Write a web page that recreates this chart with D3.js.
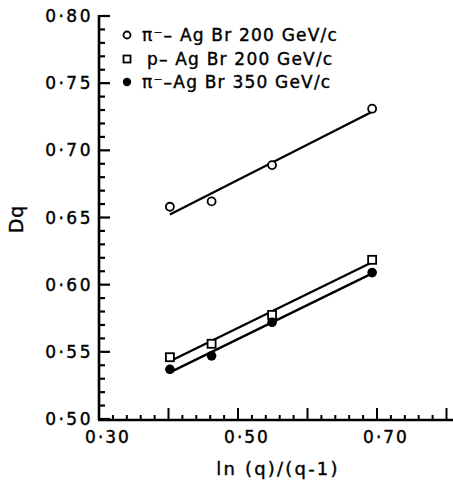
<!DOCTYPE html>
<html lang="en">
<head>
<meta charset="UTF-8">
<title>Dq vs ln(q)/(q-1)</title>
<script src="https://cdn.jsdelivr.net/npm/d3@7"></script>
<style>
  body { margin: 0; background: #fff; }
  text { font-family: "DejaVu Sans", sans-serif; fill: #000; stroke: #000; stroke-width: 0.4px; }
</style>
</head>
<body>
<div id="chart"></div>
<script>
// x values: ln(q)/(q-1) for q = 5, 4, 3, 2
var xVals = [0.402, 0.462, 0.549, 0.693];
var piAg200 = [0.658, 0.662, 0.689, 0.731];
var pAg200 = [0.546, 0.556, 0.5775, 0.6185];
var piAg350 = [0.537, 0.547, 0.572, 0.609];
var seriesNames = ["\u03c0\u207b\u2013 Ag Br 200 GeV/c", "p\u2013 Ag Br 200 GeV/c", "\u03c0\u207b\u2013Ag Br 350 GeV/c"];
var xTicks = [0.30, 0.50, 0.70];
var yTicks = [0.50, 0.55, 0.60, 0.65, 0.70, 0.75, 0.80];

var W = 453, H = 481;
var svg = d3.select("#chart").append("svg").attr("width", W).attr("height", H);

var x = d3.scaleLinear().domain([0.30, 0.80]).range([99, 446.5]);
var y = d3.scaleLinear().domain([0.50, 0.80]).range([419, 16]);

function fmt(v) { return d3.format(".2f")(v).replace(".", "\u00b7"); }

// axes lines
svg.append("line").attr("x1", 99).attr("x2", 99).attr("y1", y(0.80) - 1).attr("y2", 420)
  .attr("stroke", "#000").attr("stroke-width", 2.6);
svg.append("line").attr("x1", 98).attr("x2", W).attr("y1", 420).attr("y2", 420)
  .attr("stroke", "#000").attr("stroke-width", 2.6);

// y ticks every 0.01 (major at 0.05)
var yAll = d3.range(0, 31).map(function (i) { return 0.50 + i * 0.01; });
svg.append("g").selectAll("line").data(yAll).enter().append("line")
  .attr("x1", 99)
  .attr("x2", function (d, i) { return i % 5 === 0 ? 110 : 105; })
  .attr("y1", function (d) { return y(d); })
  .attr("y2", function (d) { return y(d); })
  .attr("stroke", "#000").attr("stroke-width", 2.2);

// x ticks every 0.02 (major at 0.10)
var xAll = d3.range(1, 26).map(function (i) { return 0.30 + i * 0.02; });
svg.append("g").selectAll("line").data(xAll).enter().append("line")
  .attr("x1", function (d) { return x(d); })
  .attr("x2", function (d) { return x(d); })
  .attr("y1", 420)
  .attr("y2", function (d, i) { return (i + 1) % 5 === 0 ? 408 : 415; })
  .attr("stroke", "#000").attr("stroke-width", 2);

// tick labels
svg.append("g").selectAll("text").data(yTicks).enter().append("text")
  .attr("x", 93).attr("y", function (d) { return y(d) + 6; })
  .attr("text-anchor", "end").attr("font-size", 17).attr("letter-spacing", 2.5)
  .text(fmt);
svg.append("g").selectAll("text").data(xTicks).enter().append("text")
  .attr("x", function (d) { return x(d) + 9; }).attr("y", 443)
  .attr("text-anchor", "middle").attr("font-size", 17).attr("letter-spacing", 2)
  .text(fmt);

// axis titles
svg.append("text").attr("x", 278).attr("y", 475).attr("text-anchor", "middle")
  .attr("font-size", 18).attr("letter-spacing", 2.2).text("ln (q)/(q-1)");
svg.append("text").attr("transform", "translate(23,219) rotate(-90)")
  .attr("text-anchor", "middle").attr("font-size", 19).attr("letter-spacing", 1).text("Dq");

// least-squares fit lines
function fitLine(ys) {
  var mx = d3.mean(xVals), my = d3.mean(ys);
  var sxy = d3.sum(xVals, function (v, i) { return (v - mx) * (ys[i] - my); });
  var sxx = d3.sum(xVals, function (v) { return (v - mx) * (v - mx); });
  var b = sxy / sxx, a = my - b * mx;
  var x0 = xVals[0], x1 = xVals[xVals.length - 1];
  return [[x0, a + b * x0], [x1, a + b * x1]];
}
[piAg200, pAg200, piAg350].forEach(function (ys) {
  var f = fitLine(ys);
  svg.append("line")
    .attr("x1", x(f[0][0])).attr("y1", y(f[0][1]))
    .attr("x2", x(f[1][0])).attr("y2", y(f[1][1]))
    .attr("stroke", "#000").attr("stroke-width", 2.3);
});

// markers
svg.append("g").selectAll("circle").data(piAg200).enter().append("circle")
  .attr("cx", function (d, i) { return x(xVals[i]); })
  .attr("cy", function (d) { return y(d); })
  .attr("r", 4).attr("fill", "#fff").attr("stroke", "#000").attr("stroke-width", 1.8);
svg.append("g").selectAll("rect").data(pAg200).enter().append("rect")
  .attr("x", function (d, i) { return x(xVals[i]) - 4; })
  .attr("y", function (d) { return y(d) - 4; })
  .attr("width", 8).attr("height", 8)
  .attr("fill", "#fff").attr("stroke", "#000").attr("stroke-width", 1.8);
svg.append("g").selectAll("circle").data(piAg350).enter().append("circle")
  .attr("cx", function (d, i) { return x(xVals[i]); })
  .attr("cy", function (d) { return y(d); })
  .attr("r", 4.8).attr("fill", "#000");

// legend
var leg = svg.append("g");
var legY = [35, 59, 82];
leg.append("circle").attr("cx", 127).attr("cy", legY[0]).attr("r", 3.5)
  .attr("fill", "#fff").attr("stroke", "#000").attr("stroke-width", 1.8);
leg.append("rect").attr("x", 123.5).attr("y", legY[1] - 3.5).attr("width", 7).attr("height", 7)
  .attr("fill", "#fff").attr("stroke", "#000").attr("stroke-width", 1.8);
leg.append("circle").attr("cx", 127).attr("cy", legY[2]).attr("r", 4.2).attr("fill", "#000");
leg.selectAll("text").data(seriesNames).enter().append("text")
  .attr("x", function (d, i) { return i === 1 ? 147 : 142; })
  .attr("y", function (d, i) { return legY[i] + 6; })
  .attr("font-size", 17).attr("letter-spacing", 1.2)
  .text(function (d) { return d; });
</script>
</body>
</html>
